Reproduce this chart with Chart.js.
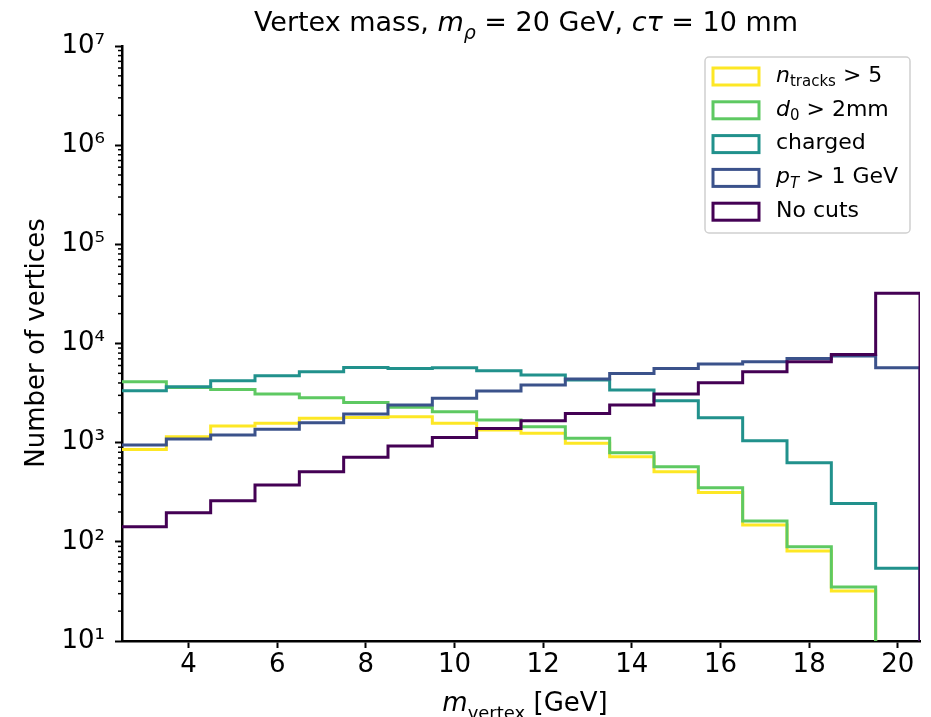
<!DOCTYPE html>
<html>
<head>
<meta charset="utf-8">
<script src="https://cdn.jsdelivr.net/npm/chart.js@4/dist/chart.umd.min.js"></script>
<style>
  html, body { margin: 0; padding: 0; background: #fff; }
  #chart { display: block; }
</style>
</head>
<body>
<canvas id="chart" width="931" height="717"></canvas>
<script>
// bin centres of the vertex mass histogram (GeV), bin width 1
const massBins = [3,4,5,6,7,8,9,10,11,12,13,14,15,16,17,18,19,20];
const binWidth = 1;

// counts per bin
const nTracks = [855,1146,1469,1566,1758,1799,1825,1566,1340,1241,984,721,509,315,148,81,32,0];
const d0Cut   = [4111,3608,3446,3090,2837,2547,2270,2050,1690,1446,1105,791,571,351,162,89,35,0];
const charged = [3336,3664,4210,4724,5188,5741,5610,5690,5306,4799,4276,3390,2643,1782,1045,627,244,54];
const ptCut   = [946,1087,1194,1362,1588,1942,2393,2799,3311,3808,4375,4997,5610,6197,6546,7079,7464,5690];
const noCuts  = [142,196,260,374,509,711,924,1130,1393,1663,1974,2393,3090,4018,5188,6546,7762,32200];

const xTicks = [4,6,8,10,12,14,16,18,20];
const yTicks = [1e1,1e2,1e3,1e4,1e5,1e6,1e7];
const yTickLabels = ['10¹','10²','10³','10⁴','10⁵','10⁶','10⁷'];

const FONT = '"DejaVu Sans", sans-serif';

// legend entries: label pieces (it = italic, sub = subscript)
const series = [
  { data: nTracks, color: '#fde725', label: [{t:'n', it:1},{t:'tracks', sub:1},{t:' > 5'}] },
  { data: d0Cut,   color: '#5ec962', label: [{t:'d', it:1},{t:'0', sub:1},{t:' > 2mm'}] },
  { data: charged, color: '#21918c', label: [{t:'charged'}] },
  { data: ptCut,   color: '#3b528b', label: [{t:'p', it:1},{t:'T', sub:1, it:1},{t:' > 1 GeV'}] },
  { data: noCuts,  color: '#440154', label: [{t:'No cuts'}] }
];

// step outline like a matplotlib 'step' histogram; empty bins go below the axis
function stepPoints(vals) {
  const floor = 1;
  const pts = vals.map((v, i) => ({x: massBins[i] - binWidth/2, y: v > 0 ? v : floor}));
  const last = vals[vals.length-1];
  const xEnd = massBins[massBins.length-1] + binWidth/2;
  pts.push({x: xEnd, y: last > 0 ? last : floor});
  pts.push({x: xEnd, y: floor});
  return pts;
}

function drawRich(ctx, segs, x, y, size, align) {
  const fontOf = s => `${s.it ? 'italic ' : ''}${s.sub ? Math.round(size*0.7) : size}px ${FONT}`;
  let w = 0;
  segs.forEach(s => { ctx.font = fontOf(s); w += ctx.measureText(s.t).width; });
  let cx = align === 'center' ? x - w/2 : x;
  ctx.textAlign = 'left';
  segs.forEach(s => {
    ctx.font = fontOf(s);
    ctx.fillText(s.t, cx, s.sub ? y + size*0.3 : y);
    cx += ctx.measureText(s.t).width;
  });
}

const decor = {
  id: 'decor',
  afterDraw(chart) {
    const ctx = chart.ctx;
    const a = chart.chartArea;
    const ys = chart.scales.y;
    ctx.save();
    // minor ticks on log axis
    ctx.strokeStyle = '#000';
    ctx.lineWidth = 1.5;
    for (let d = 1; d < 7; d++) {
      for (let k = 2; k <= 9; k++) {
        const py = ys.getPixelForValue(k * Math.pow(10, d));
        ctx.beginPath();
        ctx.moveTo(a.left - 4, py);
        ctx.lineTo(a.left, py);
        ctx.stroke();
      }
    }
    ctx.fillStyle = '#000';
    ctx.textBaseline = 'alphabetic';
    // title
    drawRich(ctx, [{t:'Vertex mass, '},{t:'m', it:1},{t:'ρ', it:1, sub:1},{t:' = 20 GeV, '},{t:'cτ', it:1},{t:' = 10 mm'}],
      526, 31, 27, 'center');
    // x label
    drawRich(ctx, [{t:'m', it:1},{t:'vertex', sub:1},{t:' [GeV]'}], 525, 711, 26, 'center');
    // y label
    ctx.save();
    ctx.translate(44, 343);
    ctx.rotate(-Math.PI/2);
    ctx.font = `26px ${FONT}`;
    ctx.textAlign = 'center';
    ctx.fillText('Number of vertices', 0, 0);
    ctx.restore();

    // legend
    const lx = 705, ly = 57, lw = 205, lh = 176;
    ctx.fillStyle = 'rgba(255,255,255,0.8)';
    ctx.strokeStyle = '#d0d0d0';
    ctx.lineWidth = 1.5;
    ctx.beginPath();
    ctx.roundRect(lx, ly, lw, lh, 4);
    ctx.fill();
    ctx.stroke();
    series.forEach((s, i) => {
      const cy = 76 + i * 33.8;
      ctx.strokeStyle = s.color;
      ctx.lineWidth = 3;
      ctx.strokeRect(713, cy - 8, 46, 17);
      ctx.fillStyle = '#000';
      ctx.textBaseline = 'middle';
      drawRich(ctx, s.label, 776, cy, 22, 'left');
    });
    ctx.restore();
  }
};

new Chart(document.getElementById('chart'), {
  type: 'line',
  data: {
    datasets: series.map((s, i) => ({
      data: stepPoints(s.data),
      borderColor: s.color,
      borderWidth: 3,
      stepped: 'before',
      pointRadius: 0,
      fill: false,
      borderJoinStyle: 'miter',
      order: -i
    }))
  },
  options: {
    responsive: false,
    animation: false,
    devicePixelRatio: 1,
    layout: { padding: { top: 46, right: 11, left: 0, bottom: 0 } },
    plugins: { legend: { display: false }, title: { display: false }, tooltip: { enabled: false } },
    scales: {
      x: {
        type: 'linear',
        min: massBins[0] - binWidth/2,
        max: massBins[massBins.length-1] + binWidth/2,
        afterBuildTicks: sc => { sc.ticks = xTicks.map(v => ({value: v})); },
        afterFit: sc => { sc.height = 76; },
        ticks: { color: '#000', font: { family: FONT, size: 26 }, padding: 2, maxRotation: 0 },
        grid: { drawOnChartArea: false, tickLength: 7, tickWidth: 2, tickColor: '#000' },
        border: { color: '#000', width: 2.5 }
      },
      y: {
        type: 'logarithmic',
        min: yTicks[0],
        max: yTicks[yTicks.length-1],
        afterBuildTicks: sc => { sc.ticks = yTicks.map(v => ({value: v})); },
        afterFit: sc => { sc.width = 122; },
        ticks: {
          color: '#000', font: { family: FONT, size: 26 }, padding: 10,
          callback: (v) => yTickLabels[yTicks.indexOf(v)] ?? ''
        },
        grid: { drawOnChartArea: false, tickLength: 7, tickWidth: 2, tickColor: '#000' },
        border: { color: '#000', width: 2.5 }
      }
    }
  },
  plugins: [decor]
});
</script>
</body>
</html>
